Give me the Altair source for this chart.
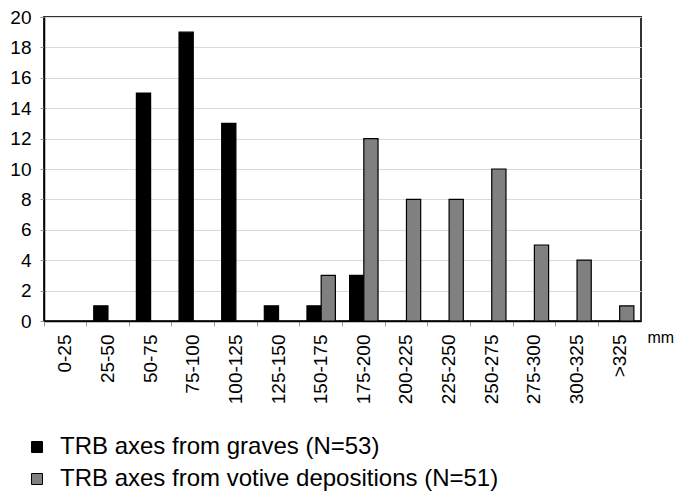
import altair as alt
import pandas as pd

categories = ["0-25", "25-50", "50-75", "75-100", "100-125", "125-150", "150-175",
              "175-200", "200-225", "225-250", "250-275", "275-300", "300-325", ">325"]
graves = [0, 1, 15, 19, 13, 1, 1, 3, 0, 0, 0, 0, 0, 0]
votive = [0, 0, 0, 0, 0, 0, 3, 12, 8, 8, 10, 5, 4, 1]
series_names = ["TRB axes from graves (N=53)", "TRB axes from votive depositions (N=51)"]
series_colors = ["#000000", "#808080"]
y_ticks = list(range(0, 21, 2))

rows = []
for c, g, v in zip(categories, graves, votive):
    rows.append({"cat": c, "series": series_names[0], "value": g})
    rows.append({"cat": c, "series": series_names[1], "value": v})
df = pd.DataFrame(rows)
df = df[df["value"] > 0]

FONT = "Liberation Sans"

chart = alt.Chart(df).mark_bar(stroke="#000000", strokeWidth=1.2).encode(
    x=alt.X("cat:N", sort=categories,
            scale=alt.Scale(domain=categories, paddingInner=0, paddingOuter=0),
            axis=alt.Axis(title="mm", labelAngle=-90, labelFontSize=19, labelFont=FONT,
                          labelColor="#000000", labelPadding=8, labelAlign="right",
                          labelBaseline="middle",
                          tickSize=5, tickColor="#999999", bandPosition=0,
                          domainColor="#000000", domainWidth=1.5,
                          titleFont=FONT, titleFontSize=16, titleFontWeight="normal",
                          titleAngle=0, titleAlign="left", titleBaseline="alphabetic",
                          titleX=603, titleY=21, titleColor="#000000")),
    xOffset=alt.XOffset("series:N", sort=series_names,
                        scale=alt.Scale(domain=series_names, paddingInner=0, paddingOuter=0.5)),
    y=alt.Y("value:Q", scale=alt.Scale(domain=[0, 20], nice=False),
            axis=alt.Axis(title=None, values=y_ticks, labelFontSize=19, labelFont=FONT,
                          labelColor="#000000", labelPadding=9, tickSize=4,
                          tickColor="#999999", domainColor="#000000", domainWidth=1.5,
                          gridColor="#d9d9d9", gridWidth=1)),
    fill=alt.Fill("series:N", sort=series_names,
                  scale=alt.Scale(domain=series_names, range=series_colors),
                  legend=alt.Legend(title=None, orient="none", legendX=-19, legendY=418,
                                    padding=0,
                                    symbolType="square", symbolSize=121,
                                    symbolStrokeColor="#000000", symbolStrokeWidth=1,
                                    labelFontSize=24, labelFont=FONT, labelColor="#000000",
                                    rowPadding=8, labelOffset=11, labelLimit=650)),
).properties(
    width=597, height=304,
    autosize=alt.AutoSizeParams(type="none"),
    padding={"left": 36, "top": 9, "right": 34, "bottom": 175},
).configure_view(
    stroke="#333333", strokeWidth=2
)

chart.save("out.html", embed_options={"renderer": "svg", "actions": False})
